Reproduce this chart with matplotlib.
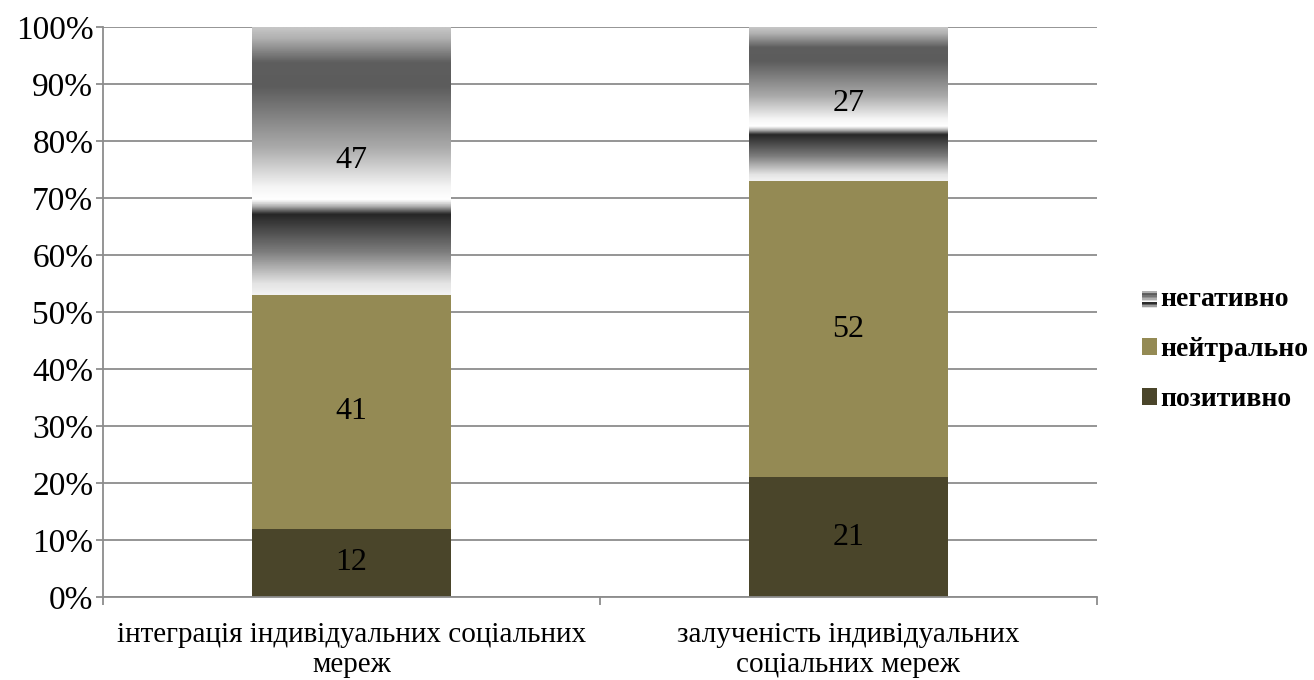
import numpy as np
import matplotlib
matplotlib.use("Agg")
import matplotlib.pyplot as plt
from matplotlib.colors import LinearSegmentedColormap
from matplotlib.patches import Rectangle
from matplotlib.legend_handler import HandlerBase

plt.rcParams['font.family'] = ['Liberation Serif', 'DejaVu Serif']

categories = ["інтеграція індивідуальних соціальних\nмереж",
              "залученість індивідуальних\nсоціальних мереж"]
positive = [12, 21]
neutral = [41, 52]
negative = [47, 27]
series_names = ["позитивно", "нейтрально", "негативно"]

COL_POS = "#4A452A"
COL_NEU = "#948A54"
GRID = "#8C8C8C"

# "chrome" style fill for the negative segments, top -> bottom
chrome_stops = [
    (0.00, "#c6c6c6"), (0.04, "#b0b0b0"), (0.13, "#5e5e5e"), (0.22, "#5c5c5c"),
    (0.45, "#ababab"), (0.60, "#f6f6f6"), (0.645, "#ffffff"), (0.665, "#c4c4c4"),
    (0.70, "#262626"), (0.84, "#7c7c7c"), (0.96, "#e4e4e4"), (1.00, "#f2f2f2"),
]
chrome = LinearSegmentedColormap.from_list("chrome", chrome_stops)


class ChromeHandler(HandlerBase):
    def create_artists(self, legend, orig_handle, xdescent, ydescent,
                       width, height, fontsize, trans):
        n = 12
        arts = []
        for i in range(n):
            t = 1 - (i + 0.5) / n
            r = Rectangle((xdescent, ydescent + height * i / n), width, height / n + 0.3,
                          facecolor=chrome(t), edgecolor='none', transform=trans)
            arts.append(r)
        return arts


fig = plt.figure(figsize=(13.14, 6.8), dpi=100)
ax = fig.add_axes([103 / 1314, 83 / 680, 994 / 1314, 570 / 680])

x = np.arange(len(categories))
w = 0.4
b_pos = ax.bar(x, positive, w, color=COL_POS, zorder=2)
b_neu = ax.bar(x, neutral, w, bottom=positive, color=COL_NEU, zorder=2)
bottom_neg = np.array(positive) + np.array(neutral)
b_neg = ax.bar(x, negative, w, bottom=bottom_neg, color='none', zorder=2)

grad = np.linspace(0, 1, 400).reshape(-1, 1)
for rect in b_neg:
    x0, y0 = rect.get_x(), rect.get_y()
    im = ax.imshow(grad, cmap=chrome, aspect='auto', origin='upper',
                   extent=[x0, x0 + rect.get_width(), y0, y0 + rect.get_height()],
                   zorder=2.5, interpolation='bilinear')
    im.set_clip_path(rect)

for bars, vals in [(b_pos, positive), (b_neu, neutral), (b_neg, negative)]:
    for rect, v in zip(bars, vals):
        ax.text(rect.get_x() + rect.get_width() / 2, rect.get_y() + rect.get_height() / 2,
                str(v), ha='center', va='center', fontsize=23, color='black', zorder=5)

ax.set_xlim(-0.5, 1.5)
ax.set_ylim(0, 100)
ax.set_yticks(np.arange(0, 101, 10))
ax.set_yticklabels([f"{v}%" for v in range(0, 101, 10)], fontsize=24)
ax.yaxis.grid(True, color=GRID, linewidth=1.3, zorder=0)
ax.set_axisbelow(True)

ax.set_xticks([-0.5, 0.5, 1.5])
ax.set_xticklabels([])
ax.set_xticks(x, minor=True)
ax.set_xticklabels(categories, minor=True, fontsize=21, linespacing=1.2)
ax.tick_params(axis='x', which='minor', length=0, pad=18)
ax.tick_params(axis='x', which='major', length=6, color=GRID, width=1.3)
ax.tick_params(axis='y', length=5, color=GRID, width=1.3, pad=2)

for s in ['top', 'right']:
    ax.spines[s].set_visible(False)
for s in ['left', 'bottom']:
    ax.spines[s].set_color(GRID)
    ax.spines[s].set_linewidth(1.3)

handles = [b_neg[0], b_neu[0], b_pos[0]]
labels = [series_names[2], series_names[1], series_names[0]]
leg = fig.legend(handles, labels, loc='center left', bbox_to_anchor=(1142 / 1314, 1 - 350 / 680),
                 frameon=False, prop={'size': 20, 'weight': 'bold'},
                 handlelength=0.55, handleheight=0.55,
                 handletextpad=0.12, labelspacing=0.9, borderpad=0, borderaxespad=0,
                 handler_map={b_neg[0]: ChromeHandler()})

fig.savefig("out.png", dpi=100)
